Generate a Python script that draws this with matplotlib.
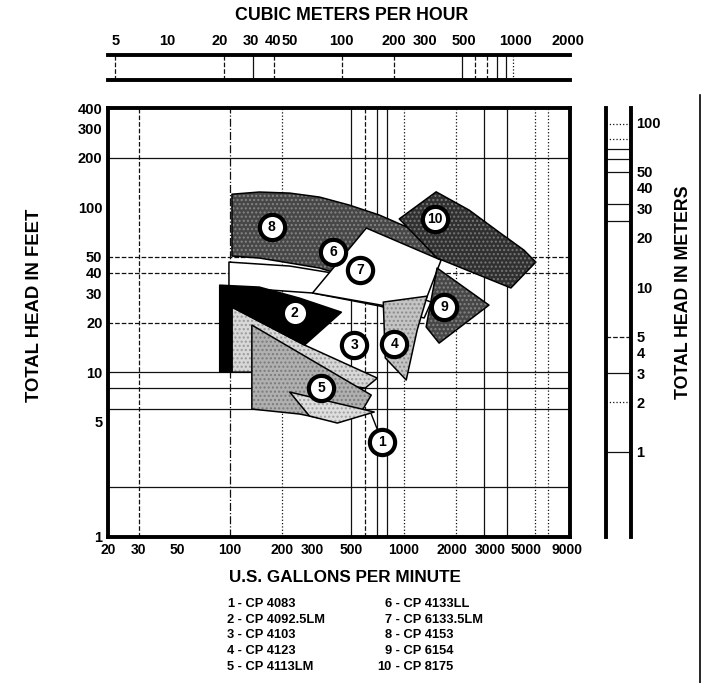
import matplotlib
matplotlib.use("Agg")
import matplotlib.pyplot as plt
from matplotlib.patches import Polygon
from matplotlib.transforms import ScaledTranslation

plt.rcParams['font.family'] = ['Liberation Sans', 'DejaVu Sans']
plt.rcParams['font.weight'] = 'bold'
plt.rcParams['hatch.linewidth'] = 1.0

# ---------------- data ----------------
gpm_ticks = [20, 30, 50, 100, 200, 300, 500, 1000, 2000, 3000, 5000, 9000]
feet_ticks = [1, 5, 10, 20, 30, 40, 50, 100, 200, 300, 400]
m3h_ticks = [5, 10, 20, 30, 40, 50, 100, 200, 300, 500, 1000, 2000]
meter_ticks = [1, 2, 3, 4, 5, 10, 20, 30, 40, 50, 100]

# reference lines of the chart grid (value, style)
gpm_lines = [(30, 'dashed'), (100, 'dashdot'), (200, 'dotted'), (500, 'solid'),
             (600, 'dashed'), (700, 'solid'), (800, 'solid'), (1000, 'dotted'),
             (2000, 'dotted'), (2900, 'solid'), (3900, 'solid'), (5700, 'dotted'),
             (6700, 'dotted')]
feet_lines = [(200, 'solid'), (50, 'dashed'), (40, 'dashed'), (20, 'dashed'),
              (10, 'solid'), (8, 'solid'), (6, 'solid'), (2, 'solid')]
m3h_lines = [(5, 'dashed'), (21, 'dashed'), (31, 'solid'), (41, 'dashed'),
             (100, 'dashed'), (200, 'dashed'), (490, 'solid'), (580, 'dashed'),
             (680, 'dashed'), (780, 'solid'), (880, 'solid'), (960, 'dotted')]
meter_lines = [(98, 'dotted'), (79, 'dotted'), (69, 'solid'), (60, 'solid'),
               (50, 'solid'), (32, 'solid'), (25, 'solid'), (5, 'dashed'),
               (3, 'solid'), (2, 'dotted'), (1, 'solid')]

# operating ranges, (US gpm, feet of head)
range_8 = [(103, 120), (148, 123.7), (221, 121.9), (328, 115.3), (486, 103.1),
           (723, 89.7), (1073, 74.8), (1594, 59.0), (1703, 53.4), (1594, 46.5),
           (941, 46.5), (426, 39.3), (328, 42.8), (221, 45.9), (148, 49.2), (103, 50.6)]
range_10 = [(1533, 124), (2368, 96.2), (3517, 70.7), (4891, 55.0), (5728, 46.5),
            (4120, 32.4), (1552, 49.2), (941, 85)]
range_9 = [(1552, 42.8), (3083, 25.5), (1594, 15.0), (1343, 18.8)]
range_6 = [(99, 46.5), (221, 44.0), (426, 39.3), (941, 31.5), (1435, 26.6),
           (1308, 21.3), (723, 25.2), (299, 30.2), (169, 31.5), (99, 31.5)]
range_7 = [(609, 74.8), (1636, 47.8), (1257, 23.1), (299, 30.2)]
range_4 = [(762, 26.6), (1361, 28.9), (1193, 18.0), (1032, 8.96), (782, 12.2)]
range_3 = [(103, 24.8), (269, 14.6), (704, 9.2), (600, 8.0), (134, 10.0), (103, 10.0)]
range_2 = [(87.6, 33.7), (148, 32.8), (252, 28.1), (438, 23.1), (269, 14.6),
           (103, 24.8), (103, 10.0), (87.6, 10.0)]
range_5 = [(134, 19.3), (650, 7.26), (570, 5.73), (426, 4.98), (252, 5.57), (134, 5.97)]
range_1 = [(221, 7.57), (676, 5.73), (415, 4.91), (287, 5.42)]

label_ids = [1, 2, 3, 4, 5, 6, 7, 8, 9, 10]
label_gpm = [752, 236, 520, 881, 336, 394, 562, 174, 1702, 1512]
label_ft = [3.77, 22.8, 14.6, 14.8, 8.01, 53.5, 41.6, 75.8, 24.8, 84.8]
leader_1 = [(650, 5.57), (752, 3.77)]

models = ['1 - CP 4083', '2 - CP 4092.5LM', '3 - CP 4103', '4 - CP 4123',
          '5 - CP 4113LM', '6 - CP 4133LL', '7 - CP 6133.5LM', '8 - CP 4153',
          '9 - CP 6154', '10 - CP 8175']

GPM_TO_M3H = 0.2271
FT_TO_M = 0.3048

# ---------------- layout ----------------
W, H = 702, 683
fig = plt.figure(figsize=(W / 100, H / 100), dpi=100)


def rect(l, t, r, b):
    return [l / W, 1 - b / H, (r - l) / W, (b - t) / H]


TICK_FS = 10.5
TITLE_FS = 12.8

xlim = (20, 9000)
ylim = (1, 400)

# main chart
ax = fig.add_axes(rect(108, 108, 570, 537))
ax.set_xscale('log')
ax.set_yscale('log')
ax.set_xlim(*xlim)
ax.set_ylim(*ylim)
ax.minorticks_off()
ax.set_xticks(gpm_ticks)
ax.set_xticklabels([str(v) for v in gpm_ticks])
ax.set_yticks(feet_ticks)
ax.set_yticklabels([str(v) for v in feet_ticks])
ax.tick_params(length=0, labelsize=TICK_FS, pad=4)
ax.tick_params(axis='x', labelsize=10)
for lbl in ax.get_xticklabels() + ax.get_yticklabels():
    lbl.set_fontweight('bold')
# keep the crowded thousands labels apart
nudges = {'2000': -4, '3000': 3, '5000': 1, '9000': -3}
for lbl in ax.get_xticklabels():
    dx = nudges.get(lbl.get_text())
    if dx:
        lbl.set_transform(lbl.get_transform() + ScaledTranslation(dx / 100, 0, fig.dpi_scale_trans))
for sp in ax.spines.values():
    sp.set_linewidth(2.8)

for v, ls in gpm_lines:
    ax.axvline(v, color='#111111', lw=0.9, ls=ls, zorder=1)
for v, ls in feet_lines:
    ax.axhline(v, color='#111111', lw=0.9, ls=ls, zorder=1)

# (outline, fill, speckle colour, z-order)
styles = [
    (range_8, '#474747', '#858585', 2),
    (range_6, 'white', None, 3),
    (range_7, 'white', None, 4),
    (range_10, '#303030', '#777777', 5),
    (range_9, '#474747', '#858585', 6),
    (range_4, '#c4c4c4', '#8a8a8a', 7),
    (range_3, '#d8d8d8', '#9a9a9a', 8),
    (range_2, 'black', None, 9),
    (range_5, '#b0b0b0', '#7a7a7a', 10),
    (range_1, '#dedede', '#a0a0a0', 11),
]
for pts, fc, speck, z in styles:
    ax.add_patch(Polygon(pts, closed=True, facecolor=fc, edgecolor='none', zorder=z))
    if speck is not None:
        ax.add_patch(Polygon(pts, closed=True, facecolor='none', edgecolor=speck,
                             hatch='....', lw=0, zorder=z))
    ax.add_patch(Polygon(pts, closed=True, facecolor='none', edgecolor='black',
                         lw=1.1, joinstyle='round', zorder=z))

ax.plot([p[0] for p in leader_1], [p[1] for p in leader_1], color='black', lw=1.0, zorder=12)
ax.scatter(label_gpm, label_ft, s=330, facecolor='white', edgecolor='black',
           linewidths=3.0, zorder=13)
for n, x, y in zip(label_ids, label_gpm, label_ft):
    ax.text(x, y, str(n), ha='center', va='center', fontsize=10, fontweight='bold', zorder=14)

# cubic meters per hour strip
axt = fig.add_axes(rect(108, 55, 570, 80))
axt.set_xscale('log')
axt.set_xlim(xlim[0] * GPM_TO_M3H, xlim[1] * GPM_TO_M3H)
axt.set_ylim(0, 1)
axt.minorticks_off()
axt.set_yticks([])
axt.set_xticks(m3h_ticks)
axt.set_xticklabels([str(v) for v in m3h_ticks])
axt.xaxis.tick_top()
axt.tick_params(length=0, labelsize=TICK_FS, pad=5)
for lbl in axt.get_xticklabels():
    lbl.set_fontweight('bold')
axt.spines['left'].set_visible(False)
axt.spines['right'].set_visible(False)
axt.spines['top'].set_linewidth(2.8)
axt.spines['bottom'].set_linewidth(2.8)
for v, ls in m3h_lines:
    axt.axvline(v, color='#111111', lw=0.9, ls=ls)
fig.text(352 / W, 1 - 16 / H, 'CUBIC METERS PER HOUR', ha='center', va='center',
         fontsize=TITLE_FS, fontweight='bold')

# meters of head strip
axr = fig.add_axes(rect(606, 108, 631, 537))
axr.set_yscale('log')
axr.set_ylim(ylim[0] * FT_TO_M, ylim[1] * FT_TO_M)
axr.set_xlim(0, 1)
axr.minorticks_off()
axr.set_xticks([])
axr.yaxis.tick_right()
axr.set_yticks(meter_ticks)
axr.set_yticklabels([str(v) for v in meter_ticks])
axr.tick_params(length=0, labelsize=TICK_FS, pad=4)
for lbl in axr.get_yticklabels():
    lbl.set_fontweight('bold')
axr.spines['top'].set_visible(False)
axr.spines['bottom'].set_visible(False)
axr.spines['left'].set_linewidth(2.8)
axr.spines['right'].set_linewidth(2.8)
for v, ls in meter_lines:
    axr.axhline(v, color='#111111', lw=0.9, ls=ls)

# axis titles
fig.text(35 / W, 1 - 305 / H, 'TOTAL HEAD IN FEET', rotation=90, ha='center',
         va='center', fontsize=13.3, fontweight='bold')
fig.text(684 / W, 1 - 292 / H, 'TOTAL HEAD IN METERS', rotation=90, ha='center',
         va='center', fontsize=TITLE_FS, fontweight='bold')
fig.text(345 / W, 1 - 578 / H, 'U.S. GALLONS PER MINUTE', ha='center', va='center',
         fontsize=12.3, fontweight='bold')

# model key
col_x = [234, 392]
row_y0, row_dy = 604, 15.75
for i, name in enumerate(models):
    col, row = divmod(i, 5)
    num, rest = name.split(' ', 1)
    y = 1 - (row_y0 + row * row_dy) / H
    fig.text(col_x[col] / W, y, num, ha='right', va='center', fontsize=9.3, fontweight='bold')
    fig.text(col_x[col] / W, y, ' ' + rest, ha='left', va='center', fontsize=9.3, fontweight='bold')

# page edge
fig.add_artist(plt.Line2D([700 / W, 700 / W], [0, 1 - 95 / H], color='black', lw=1.2))

fig.savefig('out.png', dpi=100)
